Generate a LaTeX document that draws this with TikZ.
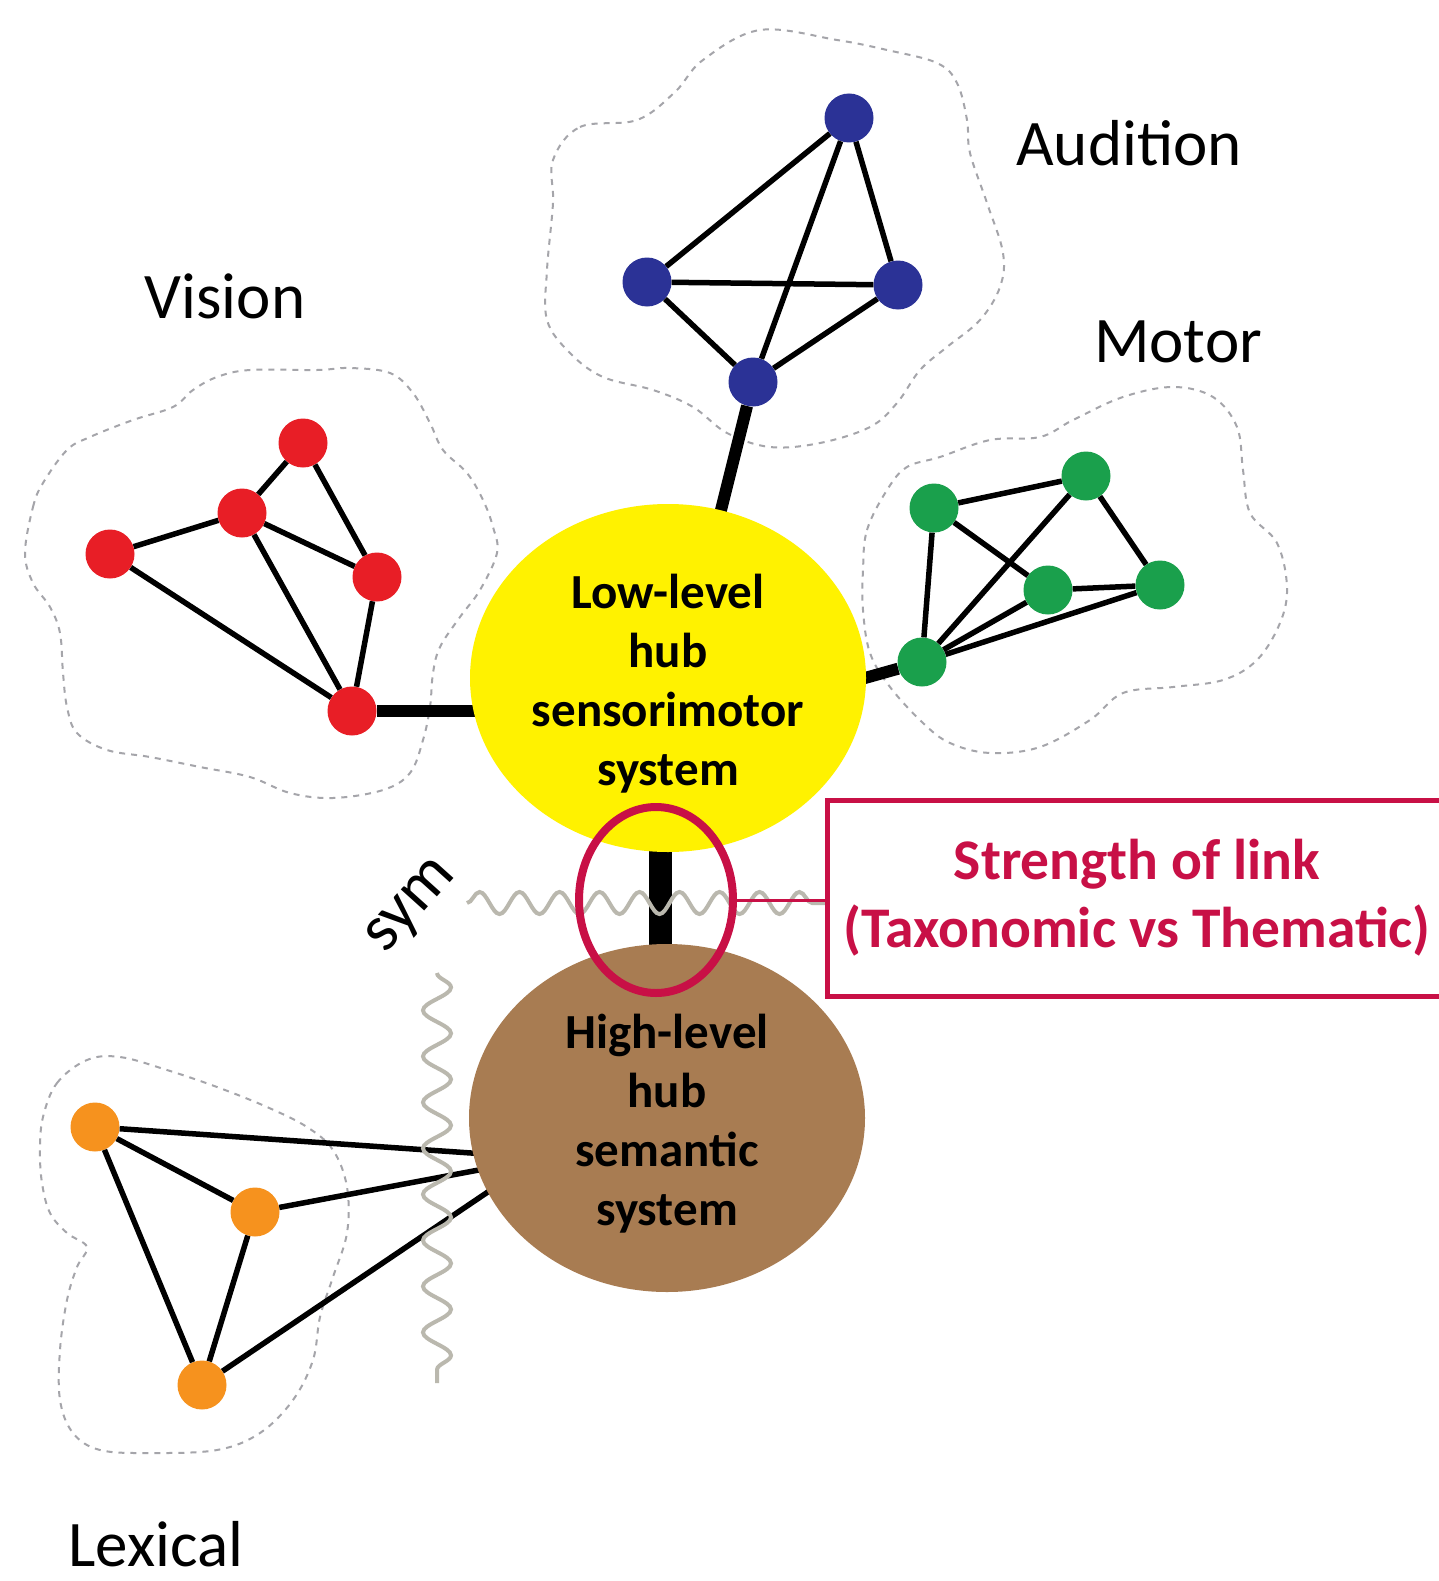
\documentclass[tikz,border=0pt]{standalone}
\usepackage{fontspec}
\setmainfont{Carlito}
\usetikzlibrary{decorations.pathmorphing,shapes.geometric,calc}
\definecolor{audblue}{RGB}{43,50,150}
\definecolor{visred}{RGB}{232,30,38}
\definecolor{motgreen}{RGB}{26,160,76}
\definecolor{lexorange}{RGB}{246,146,30}
\definecolor{hubyellow}{RGB}{255,242,0}
\definecolor{hubbrown}{RGB}{168,124,82}
\definecolor{crimson}{RGB}{200,16,70}
\definecolor{wavegray}{RGB}{186,184,174}
\definecolor{blobgray}{RGB}{165,165,170}
\begin{document}
\begin{tikzpicture}[x=1pt,y=-1pt,
  dot/.style={circle, minimum size=49pt, inner sep=0pt, draw=none},
  edge/.style={line width=5.5pt},
  hublink/.style={line width=12pt},
  blob/.style={draw=blobgray, line width=2pt, dash pattern=on 6pt off 6pt},
  wave/.style={draw=wavegray, line width=4pt, decorate, decoration={snake, amplitude=11pt, segment length=40pt}},
  vwave/.style={draw=wavegray, line width=4pt, decorate, decoration={snake, amplitude=14pt, segment length=46pt}},
  hub/.style={ellipse, minimum width=396pt, minimum height=348pt, inner sep=0pt, draw=none},
  hubtext/.style={font=\fontsize{49}{59}\selectfont\bfseries, align=center, inner sep=0pt},
  lbl/.style={font=\fontsize{65}{77}\selectfont, anchor=base, inner sep=0pt},
]
\useasboundingbox (0,0) rectangle (1439,1581);
\fill[white] (0,0) rectangle (1439,1581);

% dotted outlines
\draw[blob] plot[smooth cycle, tension=0.6] coordinates {(553,160) (580,127) (637,120) (675,92) (703,60) (760,30) (837,40) (887,50) (937,63) (957,83) (967,120) (970,153) (987,203) (1003,253) (1000,287) (980,320) (947,347) (920,370) (897,403) (870,427) (820,443) (770,447) (727,433) (693,407) (653,390) (603,377) (570,353) (547,320) (547,270) (553,203)};
\draw[blob] plot[smooth cycle, tension=0.6] coordinates {(25,553) (33,507) (43,483) (67,450) (90,437) (133,420) (173,407) (193,390) (217,377) (250,370) (317,370) (350,368) (390,373) (413,393) (430,423) (443,450) (467,473) (483,500) (493,527) (497,553) (480,590) (460,617) (440,647) (433,673) (430,707) (423,740) (410,773) (383,790) (333,798) (290,793) (250,777) (200,767) (150,757) (107,750) (77,733) (67,707) (63,673) (60,633) (50,607) (33,583)};
\draw[blob] plot[smooth cycle, tension=0.6] coordinates {(863,570) (867,530) (887,490) (907,467) (940,457) (990,440) (1040,437) (1073,420) (1123,397) (1173,387) (1213,397) (1237,427) (1243,470) (1250,513) (1277,543) (1287,587) (1280,623) (1257,660) (1223,680) (1173,687) (1123,693) (1090,720) (1040,747) (990,753) (950,743) (923,723) (890,687) (870,653) (863,610)};
\draw[blob] plot[smooth cycle, tension=0.6] coordinates {(43,1117) (57,1083) (87,1060) (120,1057) (167,1070) (217,1087) (267,1107) (307,1127) (333,1150) (347,1187) (347,1233) (333,1277) (320,1317) (313,1360) (293,1400) (260,1433) (217,1450) (150,1453) (100,1450) (73,1433) (60,1400) (60,1350) (67,1300) (77,1267) (87,1247) (67,1233) (50,1213) (42,1183) (40,1150)};

% audition
\node[dot, fill=audblue] (A1) at (849,118) {};
\node[dot, fill=audblue] (A2) at (647,282) {};
\node[dot, fill=audblue] (A3) at (898,285) {};
\node[dot, fill=audblue] (A4) at (753,382) {};
% vision
\node[dot, fill=visred] (V1) at (303,443) {};
\node[dot, fill=visred] (V2) at (242,513) {};
\node[dot, fill=visred] (V3) at (110,554) {};
\node[dot, fill=visred] (V4) at (377,577) {};
\node[dot, fill=visred] (V5) at (352,711) {};
% motor
\node[dot, fill=motgreen] (M1) at (934,508) {};
\node[dot, fill=motgreen] (M2) at (1086,476) {};
\node[dot, fill=motgreen] (M3) at (1048,590) {};
\node[dot, fill=motgreen] (M4) at (1160,585) {};
\node[dot, fill=motgreen] (M5) at (922,662) {};
% lexical
\node[dot, fill=lexorange] (L1) at (95,1127) {};
\node[dot, fill=lexorange] (L2) at (255,1212) {};
\node[dot, fill=lexorange] (L3) at (202,1385) {};

% edges
\draw[edge] (A1) -- (A2);
\draw[edge] (A1) -- (A3);
\draw[edge] (A1) -- (A4);
\draw[edge] (A2) -- (A3);
\draw[edge] (A2) -- (A4);
\draw[edge] (A3) -- (A4);
\draw[edge] (V1) -- (V2);
\draw[edge] (V1) -- (V4);
\draw[edge] (V2) -- (V3);
\draw[edge] (V2) -- (V4);
\draw[edge] (V2) -- (V5);
\draw[edge] (V3) -- (V5);
\draw[edge] (V4) -- (V5);
\draw[edge] (M1) -- (M2);
\draw[edge] (M1) -- (M3);
\draw[edge] (M1) -- (M5);
\draw[edge] (M2) -- (M4);
\draw[edge] (M2) -- (M5);
\draw[edge] (M3) -- (M4);
\draw[edge] (M3) -- (M5);
\draw[edge] (M4) -- (M5);
\draw[edge] (L1) -- (L2);
\draw[edge] (L1) -- (L3);
\draw[edge] (L2) -- (L3);

% link end points inside the hubs
\coordinate (ya) at (716,530);
\coordinate (yv) at (500,711);
\coordinate (ym) at (840,685);
\coordinate (hb1) at (500,1155);
\coordinate (hb2) at (500,1166);
\coordinate (hb3) at (510,1177);
\coordinate (bartop) at (660,820);
\coordinate (barbot) at (660,960);

\draw[hublink] (A4) -- (ya);
\draw[hublink] (V5) -- (yv);
\draw[hublink] (M5) -- (ym);
\draw[edge] (L1) -- (hb1);
\draw[edge] (L2) -- (hb2);
\draw[edge] (L3) -- (hb3);
\draw[line width=23pt] (bartop) -- (barbot);

% hubs
\node[hub, fill=hubyellow] (low) at (668,678) {};
\node[hub, fill=hubbrown] (high) at (667,1118) {};
\node[hubtext] (lowtext) at (668,684) {Low-level\\hub\\sensorimotor\\system};
\node[hubtext] (hightext) at (667,1124) {High-level\\hub\\semantic\\system};

% waves
\coordinate (w1) at (467,903);
\coordinate (w2) at (826,903);
\coordinate (v1) at (437,973);
\coordinate (v2) at (437,1383);
\draw[wave] (w1) -- (w2);
\draw[vwave] (v1) -- (v2);

% strength of link
\node[ellipse, draw=crimson, line width=8pt, minimum width=154pt, minimum height=186pt, inner sep=0pt] (ring) at (656,900) {};
\node[rectangle, draw=crimson, line width=5pt, fill=white, minimum width=620pt, minimum height=196pt, inner sep=0pt,
      text=crimson, font=\fontsize{57.5}{68}\selectfont\bfseries, align=center] (box) at (1137,898) {Strength of link\\(Taxonomic vs Thematic)};
\draw[crimson, line width=3pt] (ring.east) -- (ring.east -| box.west);

% labels
\node[lbl] (audition) at (1129,166) {Audition};
\node[lbl] (vision) at (225,318) {Vision};
\node[lbl] (motor) at (1178,362) {Motor};
\node[lbl] (lexical) at (156,1566) {Lexical};
\node[font=\fontsize{66}{77}\selectfont, rotate=48, inner sep=0pt] (sym) at (413,908) {sym};
\end{tikzpicture}
\end{document}
